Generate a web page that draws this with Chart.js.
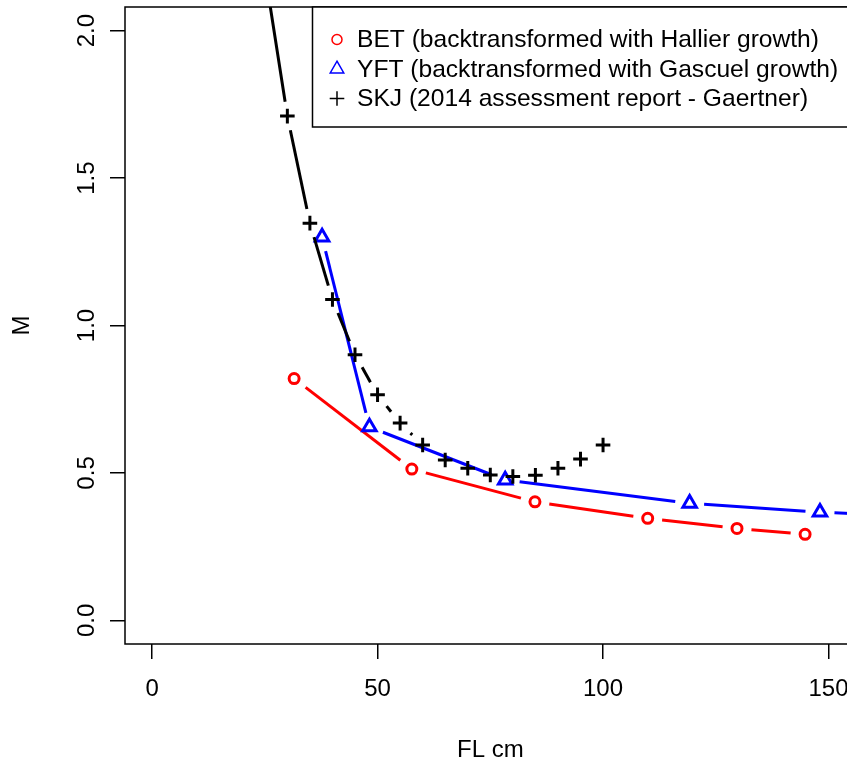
<!DOCTYPE html>
<html>
<head>
<meta charset="utf-8">
<script src="https://cdn.jsdelivr.net/npm/chart.js@4/dist/chart.umd.min.js"></script>
<style>
html,body{margin:0;padding:0;background:#fff;overflow:hidden;}
#wrap{position:relative;width:880px;height:767px;}
</style>
</head>
<body>
<div id="wrap"><canvas id="c" width="880" height="767" style="width:880px;height:767px"></canvas></div>
<script>
// ---- data ----
const betFL = [31.5, 57.6, 84.9, 109.9, 129.7, 144.8];
const betM  = [0.820, 0.513, 0.402, 0.346, 0.312, 0.292];
const yftFL = [37.7, 48.2, 78.3, 119.2, 148.1, 180];
const yftM  = [1.300, 0.656, 0.476, 0.397, 0.367, 0.345];
const skjFL = [25, 30, 35, 40, 45, 50, 55, 60, 65, 70, 75, 80, 85, 90, 95, 100];
const skjM  = [2.20, 1.710, 1.347, 1.088, 0.901, 0.765, 0.669, 0.595, 0.544, 0.516, 0.493, 0.488, 0.492, 0.516, 0.547, 0.595];
const seriesLabels = [
  'BET (backtransformed with Hallier growth)',
  'YFT (backtransformed with Gascuel growth)',
  'SKJ (2014 assessment report - Gaertner)'
];
const xTicks = [0, 50, 100, 150];
const yTicks = [0, 0.5, 1, 1.5, 2];
const yTickLabels = ['0.0', '0.5', '1.0', '1.5', '2.0'];
const xTitle = 'FL cm';
const yTitle = 'M';

// ---- styling ----
const FONT = '"Liberation Sans", Arial, Helvetica, sans-serif';
const GAP = 14.5;   // R type="b" gap around each point (px)
const LW = 3;

function pts(xs, ys) { return xs.map((x, i) => ({x: x, y: ys[i]})); }
function gapSegment(color) {
  const len = c => Math.hypot(c.p1.x - c.p0.x, c.p1.y - c.p0.y);
  return {
    borderDash: c => { const D = len(c) - 2 * GAP; return D > 0 ? [D, 100000] : [1, 100000]; },
    borderDashOffset: () => -GAP,
    borderColor: c => (len(c) > 2 * GAP ? color : 'rgba(0,0,0,0)')
  };
}
function series(label, data, color, style, radius, order) {
  return {
    label: label, data: data, order: order,
    borderColor: color, borderWidth: LW, borderCapStyle: 'butt',
    tension: 0, fill: false,
    pointStyle: style, pointRadius: radius, pointHoverRadius: radius,
    pointBorderColor: color, pointBackgroundColor: 'rgba(0,0,0,0)', pointBorderWidth: LW,
    segment: gapSegment(color)
  };
}

const boxPlugin = {
  id: 'rbox',
  afterDatasetsDraw(chart) {
    const a = chart.chartArea, ctx = chart.ctx;
    ctx.save();
    ctx.strokeStyle = '#000'; ctx.lineWidth = 1.5;
    ctx.strokeRect(a.left, a.top, a.right - a.left, a.bottom - a.top);
    ctx.restore();
  }
};

function drawSymbol(ctx, style, r, x, y) {
  if (window.Chart && Chart.helpers && Chart.helpers.drawPoint) {
    Chart.helpers.drawPoint(ctx, {pointStyle: style, rotation: 0, radius: r, borderWidth: ctx.lineWidth}, x, y);
    return;
  }
  ctx.beginPath();
  if (style === 'circle') ctx.arc(x, y, r, 0, Math.PI * 2);
  else if (style === 'triangle') {
    ctx.moveTo(x, y - r);
    ctx.lineTo(x + r * Math.sin(2 * Math.PI / 3), y - r * Math.cos(2 * Math.PI / 3));
    ctx.lineTo(x + r * Math.sin(4 * Math.PI / 3), y - r * Math.cos(4 * Math.PI / 3));
    ctx.closePath();
  } else { ctx.moveTo(x - r, y); ctx.lineTo(x + r, y); ctx.moveTo(x, y - r); ctx.lineTo(x, y + r); }
  ctx.stroke();
}

const legendPlugin = {
  id: 'rlegend',
  afterDraw(chart) {
    const a = chart.chartArea, ctx = chart.ctx;
    const ds = chart.data.datasets.slice().sort((p, q) => p.legendIndex - q.legendIndex);
    ctx.save();
    ctx.font = '24.6px ' + FONT;
    let maxW = 0;
    ds.forEach(d => { maxW = Math.max(maxW, ctx.measureText(d.label).width); });
    const right = a.right, top = a.top;
    const left = right - (maxW + 62);
    const h = 120;
    ctx.fillStyle = '#fff';
    ctx.fillRect(left, top, right - left, h);
    ctx.strokeStyle = '#000'; ctx.lineWidth = 1.5;
    ctx.strokeRect(left, top, right - left, h);
    ds.forEach((d, i) => {
      const cy = top + 32.5 + i * 29.5;
      ctx.strokeStyle = d.borderColor; ctx.fillStyle = 'rgba(0,0,0,0)'; ctx.lineWidth = 1.5;
      drawSymbol(ctx, d.pointStyle, d.pointRadius, left + 24.5, cy);
      ctx.fillStyle = '#000'; ctx.textAlign = 'left'; ctx.textBaseline = 'middle';
      ctx.fillText(d.label, left + 44.5, cy + 1);
    });
    ctx.restore();
  }
};

const tickFont = {family: FONT, size: 24};
const bet = series(seriesLabels[0], pts(betFL, betM), '#FF0000', 'circle', 5, 2); bet.legendIndex = 0;
const yft = series(seriesLabels[1], pts(yftFL, yftM), '#0000FF', 'triangle', 7.8, 1); yft.legendIndex = 1;
const skj = series(seriesLabels[2], pts(skjFL, skjM), '#000000', 'cross', 7.3, 0); skj.legendIndex = 2;

new Chart(document.getElementById('c'), {
  type: 'line',
  data: { datasets: [bet, yft, skj] },
  options: {
    responsive: false, animation: false, devicePixelRatio: 1,
    events: [],
    layout: { autoPadding: false, padding: { left: 0, top: 7, right: 24.4, bottom: 0 } },
    plugins: { legend: { display: false }, tooltip: { enabled: false } },
    scales: {
      x: {
        type: 'linear', min: -6, max: 156,
        afterBuildTicks: s => { s.ticks = xTicks.map(v => ({value: v})); },
        afterFit: s => { s.height = 123; s.paddingLeft = 0; s.paddingRight = 0; },
        ticks: { font: tickFont, color: '#000', padding: 16, minRotation: 0, maxRotation: 0,
                 autoSkip: false, callback: (v, i) => String(xTicks[i]) },
        grid: { drawOnChartArea: false, drawTicks: true, tickLength: 15, tickWidth: 1.5, tickColor: '#000', color: '#000', lineWidth: 1.5 },
        border: { display: false },
        title: { display: true, text: xTitle, font: tickFont, color: '#000', padding: { top: 0, bottom: 2 } }
      },
      y: {
        type: 'linear', min: -0.08, max: 2.08,
        afterBuildTicks: s => { s.ticks = yTicks.map(v => ({value: v})); },
        afterFit: s => { s.width = 125; s.paddingTop = 0; s.paddingBottom = 0; },
        ticks: { font: tickFont, color: '#000', padding: 6, minRotation: 90, maxRotation: 90, crossAlign: 'center',
                 autoSkip: false, callback: (v, i) => yTickLabels[i] },
        grid: { drawOnChartArea: false, drawTicks: true, tickLength: 15, tickWidth: 1.5, tickColor: '#000', color: '#000', lineWidth: 1.5 },
        border: { display: false },
        title: { display: true, text: yTitle, font: tickFont, color: '#000', padding: { top: 8, bottom: 0 } }
      }
    }
  },
  plugins: [boxPlugin, legendPlugin]
});
</script>
</body>
</html>
